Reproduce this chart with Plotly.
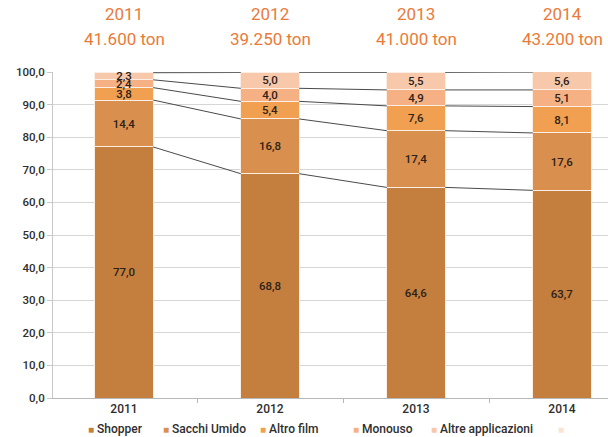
import numpy as np
import plotly.graph_objects as go

years = ["2011", "2012", "2013", "2014"]
tons = [41600, 39250, 41000, 43200]
series_names = ["Shopper", "Sacchi Umido", "Altro film", "Monouso", "Altre applicazioni"]
shopper = [77.0, 68.8, 64.6, 63.7]
sacchi = [14.4, 16.8, 17.4, 17.6]
altro_film = [3.8, 5.4, 7.6, 8.1]
monouso = [2.4, 4.0, 4.9, 5.1]
altre = [2.3, 5.0, 5.5, 5.6]
colors = ["#c47f3f", "#d98f4d", "#f0a050", "#f5b183", "#f8c8aa"]
extra_color = "#fbe2d2"

series_values = [shopper, sacchi, altro_film, monouso, altre]
idx = np.arange(len(years))
bar_w = 0.4

fig = go.Figure()
for name, vals, col in zip(series_names, series_values, colors):
    fig.add_trace(go.Bar(
        x=idx, y=vals, name=name, width=bar_w,
        marker=dict(color=col, line=dict(color="#fbeee4", width=1)),
        texttemplate="%{y:.1f}", textposition="inside", insidetextanchor="middle",
        textangle=0, textfont=dict(color="#2e2218", size=11.5, family="Roboto", weight=500),
        showlegend=False, hoverinfo="skip",
    ))

# connector lines between bars at cumulative boundaries
cum = np.cumsum(np.array(series_values), axis=0)
for k in range(cum.shape[0]):
    xs, ys = [], []
    for i in range(len(years) - 1):
        xs += [i + bar_w / 2, i + 1 - bar_w / 2, None]
        ys += [cum[k, i], cum[k, i + 1], None]
    top = k == cum.shape[0] - 1
    fig.add_trace(go.Scatter(
        x=xs, y=ys, mode="lines",
        line=dict(color="#6a6a6a" if top else "#4a4a4a", width=2 if top else 1),
        showlegend=False, hoverinfo="skip", cliponaxis=False,
    ))

# header annotations
for i, (yr, t) in enumerate(zip(years, tons)):
    tstr = f"{t:,}".replace(",", ".")
    fig.add_annotation(x=i, xref="x", y=1.178, yref="paper", yanchor="middle",
                       text=yr, showarrow=False,
                       font=dict(family="Roboto", size=17, color="#ea7a3a"))
    fig.add_annotation(x=i, xref="x", y=1.102, yref="paper", yanchor="middle",
                       text=f"{tstr} ton", showarrow=False,
                       font=dict(family="Roboto", size=17, color="#ea7a3a"))

# legend as text entries
plot_l, plot_w = 53, 555
legend_px = [86, 161, 258, 351, 429, 556]
legend_names = series_names + [""]
legend_cols = colors + [extra_color]
for px, nm, col in zip(legend_px, legend_names, legend_cols):
    fig.add_annotation(
        x=(px - plot_l) / plot_w, xref="paper", y=-0.094, yref="paper",
        xanchor="left", yanchor="middle", showarrow=False,
        text=f"<span style='color:{col};font-size:10px'>■</span> {nm}",
        font=dict(family="Roboto", size=12, color="#2e2e2e", weight=500),
    )

r0 = -(124 - plot_l) / 146
fig.update_layout(
    width=608, height=437,
    margin=dict(l=53, r=0, t=72, b=39),
    paper_bgcolor="white", plot_bgcolor="white",
    barmode="stack", separators=",.",
    uniformtext=dict(minsize=11, mode="show"),
    font=dict(family="Roboto", color="#2e2e2e"),
    xaxis=dict(range=[r0, r0 + plot_w / 146], tickvals=list(idx), ticktext=years,
               showgrid=False, zeroline=False, showline=True, linecolor="#b8b8b8",
               ticks="", tickfont=dict(size=12, color="#2e2e2e", weight=500),
               minor=dict(tick0=0.5, dtick=1, ticks="outside", ticklen=4,
                          tickcolor="#b8b8b8", showgrid=False)),
    yaxis=dict(range=[0, 100], dtick=10, tickformat=".1f", showgrid=True,
               gridcolor="#d6d6d6", gridwidth=1, zeroline=False, showline=True,
               linecolor="#c8c8c8", ticks="outside", ticklen=5, tickcolor="#c8c8c8",
               tickfont=dict(size=11.5, color="#2e2e2e", weight=500)),
)

fig.write_html("out.html")
